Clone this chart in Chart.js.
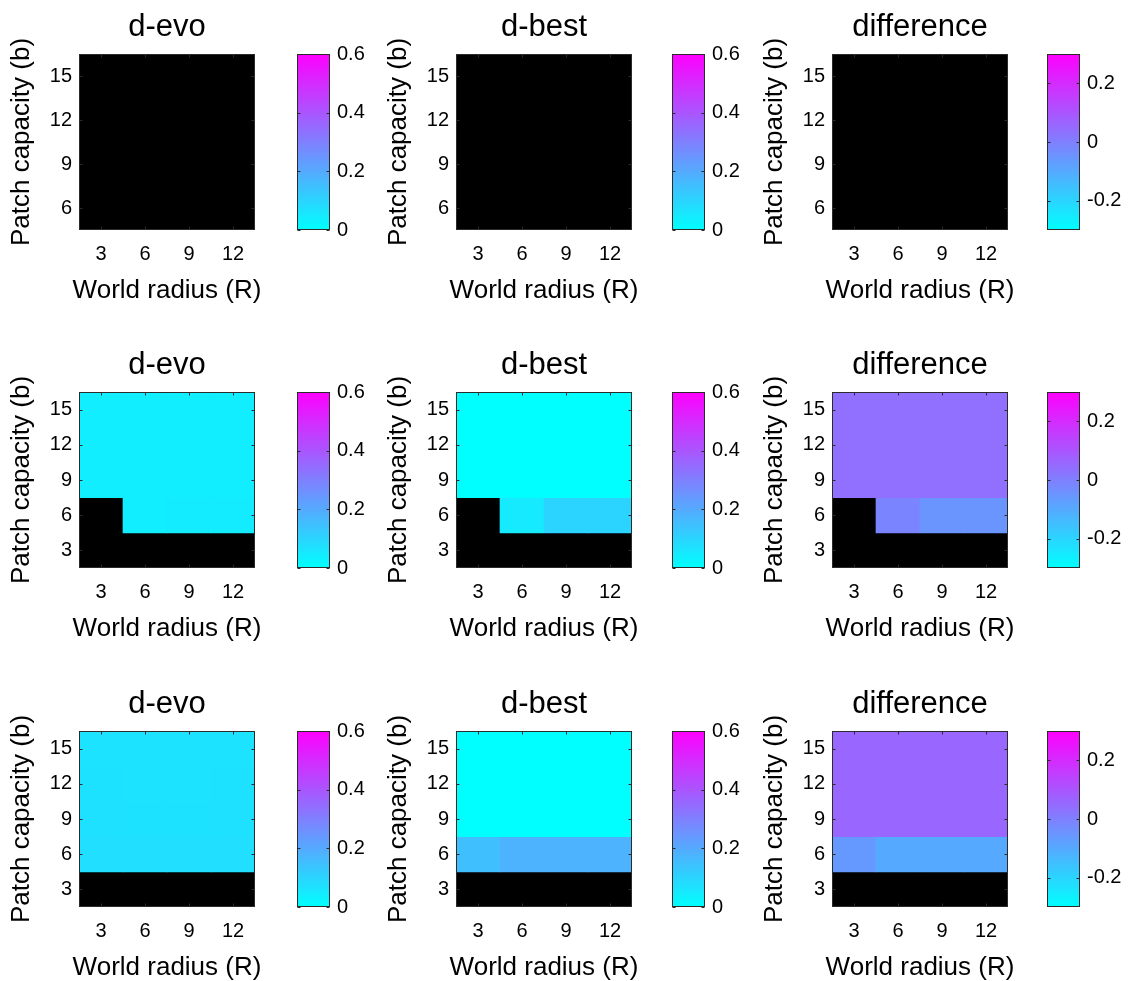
<!DOCTYPE html>
<html>
<head>
<meta charset="utf-8">
<title>d-evo / d-best / difference</title>
<script src="https://cdn.jsdelivr.net/npm/chart.js@4.4.1/dist/chart.umd.min.js"></script>
<style>
  html, body { margin: 0; padding: 0; background: #fff; overflow: hidden; }
  body { width: 1130px; height: 981px; position: relative; }
  canvas { position: absolute; }
</style>
</head>
<body>
<script>
// axes
const radius = [3, 6, 9, 12];
const capacityTop = [6, 9, 12, 15];
const capacity = [3, 6, 9, 12, 15];
const dTicks = [0, 0.2, 0.4, 0.6];
const diffTicks = [-0.2, 0, 0.2];
const dRange = [0, 0.6];
const diffRange = [-0.3, 0.3];

// values: one row per capacity (low to high), one column per radius; null = no data (black)
const evoA = [
  [null, null, null, null],
  [null, null, null, null],
  [null, null, null, null],
  [null, null, null, null]
];
const bestA = [
  [null, null, null, null],
  [null, null, null, null],
  [null, null, null, null],
  [null, null, null, null]
];
const diffA = [
  [null, null, null, null],
  [null, null, null, null],
  [null, null, null, null],
  [null, null, null, null]
];

const evoB = [
  [null, null, null, null],
  [null, 0.04, 0.045, 0.045],
  [0.04, 0.04, 0.04, 0.04],
  [0.04, 0.04, 0.04, 0.04],
  [0.04, 0.04, 0.04, 0.04]
];
const bestB = [
  [null, null, null, null],
  [null, 0.05, 0.1, 0.1],
  [0, 0, 0, 0],
  [0, 0, 0, 0],
  [0, 0, 0, 0]
];
const diffB = [
  [null, null, null, null],
  [null, -0.01, -0.05, -0.05],
  [0.04, 0.04, 0.04, 0.04],
  [0.04, 0.04, 0.04, 0.04],
  [0.04, 0.04, 0.04, 0.04]
];

const evoC = [
  [null, null, null, null],
  [0.075, 0.075, 0.075, 0.075],
  [0.07, 0.068, 0.068, 0.07],
  [0.068, 0.066, 0.066, 0.068],
  [0.066, 0.066, 0.066, 0.066]
];
const bestC = [
  [null, null, null, null],
  [0.15, 0.18, 0.18, 0.18],
  [0, 0, 0, 0],
  [0, 0, 0, 0],
  [0, 0, 0, 0]
];
const diffC = [
  [null, null, null, null],
  [-0.06, -0.1, -0.1, -0.1],
  [0.06, 0.06, 0.06, 0.06],
  [0.06, 0.06, 0.06, 0.06],
  [0.06, 0.06, 0.06, 0.06]
];

// page layout (pixels)
const plotLeft = [79, 456, 832];
const plotTop = [54, 392, 731];
const cbLeft = [297, 672, 1047];
const PLOT = 176;
const FONT = "'Liberation Sans', Arial, Helvetica, sans-serif";

Chart.defaults.font.family = FONT;
Chart.defaults.color = '#000';

// matlab "cool" colormap
function coolColor(v, range) {
  if (v === null || v === undefined) return '#000000';
  let t = (v - range[0]) / (range[1] - range[0]);
  t = Math.max(0, Math.min(1, t));
  return 'rgb(' + Math.round(255 * t) + ',' + Math.round(255 * (1 - t)) + ',255)';
}

// box round the plot + small inward ticks on every side
const boxPlugin = {
  id: 'box',
  afterDatasetsDraw(chart) {
    const {ctx, chartArea: a} = chart;
    const L = Math.round(a.left) + 0.5, R = Math.round(a.right) - 0.5;
    const T = Math.round(a.top) + 0.5, B = Math.round(a.bottom) - 0.5;
    ctx.save();
    ctx.strokeStyle = '#2b2b2b';
    ctx.lineWidth = 1;
    ctx.strokeRect(L, T, R - L, B - T);
    ctx.beginPath();
    Object.values(chart.scales).forEach(s => {
      if (!s.options.display) return;
      s.ticks.forEach(t => {
        const p = Math.round(s.getPixelForValue(t.value)) + 0.5;
        if (s.isHorizontal()) {
          ctx.moveTo(p, B); ctx.lineTo(p, B - 3);
          ctx.moveTo(p, T); ctx.lineTo(p, T + 3);
        } else {
          ctx.moveTo(L, p); ctx.lineTo(L + 3, p);
          ctx.moveTo(R, p); ctx.lineTo(R - 3, p);
        }
      });
    });
    ctx.stroke();
    ctx.restore();
  }
};

// axis titles drawn without the scale's maxWidth squeeze
const axisTitlesPlugin = {
  id: 'axisTitles',
  afterDraw(chart, args, opts) {
    if (!opts.x) return;
    const {ctx, chartArea: a} = chart;
    ctx.save();
    ctx.fillStyle = '#000';
    ctx.font = opts.size + 'px ' + FONT;
    ctx.textAlign = 'center';
    ctx.textBaseline = 'middle';
    ctx.fillText(opts.x, (a.left + a.right) / 2, a.bottom + 61);
    ctx.translate(a.left - 57, (a.top + a.bottom) / 2);
    ctx.rotate(-Math.PI / 2);
    ctx.fillText(opts.y, 0, 0);
    ctx.restore();
  }
};

function makeCanvas(left, top, w, h) {
  const c = document.createElement('canvas');
  c.width = w; c.height = h;
  c.style.left = left + 'px';
  c.style.top = top + 'px';
  c.style.width = w + 'px';
  c.style.height = h + 'px';
  document.body.appendChild(c);
  return c;
}

function heatmap(canvas, title, rows, values, range) {
  const cells = [], colors = [];
  rows.forEach((b, i) => {
    radius.forEach((R, j) => {
      cells.push({x: R, y: [b - 1.5, b + 1.5]});
      colors.push(coolColor(values[i][j], range));
    });
  });
  return new Chart(canvas, {
    type: 'bar',
    data: {
      datasets: [{
        data: cells,
        backgroundColor: colors,
        borderWidth: 0,
        barPercentage: 1,
        categoryPercentage: 1
      }]
    },
    options: {
      responsive: false,
      animation: false,
      events: [],
      layout: { padding: { right: 34 } },
      plugins: {
        legend: { display: false },
        tooltip: { enabled: false },
        title: {
          display: true,
          text: title,
          fullSize: false,
          color: '#000',
          font: { size: 31, weight: 'normal' },
          padding: { top: 8.4, bottom: 8.4 }
        },
        axisTitles: { x: 'World radius (R)', y: 'Patch capacity (b)', size: 26 }
      },
      scales: {
        x: {
          type: 'linear',
          min: 1.5,
          max: 13.5,
          offset: false,
          grid: { display: false, drawTicks: false },
          border: { display: false },
          ticks: { padding: 12, font: { size: 20 }, color: '#000', callback: v => String(v) },
          afterBuildTicks: s => { s.ticks = radius.map(v => ({value: v})); },
          afterFit: s => { s.height = 79; }
        },
        y: {
          type: 'linear',
          min: rows[0] - 1.5,
          max: rows[rows.length - 1] + 1.5,
          grid: { display: false, drawTicks: false },
          border: { display: false },
          ticks: { padding: 7, font: { size: 20 }, color: '#000', callback: v => String(v) },
          afterBuildTicks: s => { s.ticks = rows.map(v => ({value: v})); },
          afterFit: s => { s.width = 79; }
        }
      }
    },
    plugins: [boxPlugin, axisTitlesPlugin]
  });
}

function colorbar(canvas, range, ticks) {
  return new Chart(canvas, {
    type: 'bar',
    data: {
      labels: [''],
      datasets: [{
        data: [range],
        backgroundColor: ctx => {
          const a = ctx.chart.chartArea;
          if (!a) return 'rgb(0,255,255)';
          const g = ctx.chart.ctx.createLinearGradient(0, a.bottom, 0, a.top);
          g.addColorStop(0, 'rgb(0,255,255)');
          g.addColorStop(1, 'rgb(255,0,255)');
          return g;
        },
        borderWidth: 0,
        barPercentage: 1,
        categoryPercentage: 1
      }]
    },
    options: {
      responsive: false,
      animation: false,
      events: [],
      layout: { padding: { top: 54, bottom: 79 } },
      plugins: {
        legend: { display: false },
        tooltip: { enabled: false }
      },
      scales: {
        x: { display: false },
        y: {
          position: 'right',
          min: range[0],
          max: range[1],
          grid: { display: false, drawTicks: false },
          border: { display: false },
          ticks: { padding: 7, font: { size: 20 }, color: '#000', callback: v => String(v) },
          afterBuildTicks: s => { s.ticks = ticks.map(v => ({value: v})); },
          afterFit: s => { s.width = 50; }
        }
      }
    },
    plugins: [boxPlugin]
  });
}

const figure = [
  [['d-evo', capacityTop, evoA, dRange, dTicks], ['d-best', capacityTop, bestA, dRange, dTicks], ['difference', capacityTop, diffA, diffRange, diffTicks]],
  [['d-evo', capacity, evoB, dRange, dTicks], ['d-best', capacity, bestB, dRange, dTicks], ['difference', capacity, diffB, diffRange, diffTicks]],
  [['d-evo', capacity, evoC, dRange, dTicks], ['d-best', capacity, bestC, dRange, dTicks], ['difference', capacity, diffC, diffRange, diffTicks]]
];

figure.forEach((row, r) => {
  row.forEach((p, c) => {
    const top = plotTop[r] - 54;
    heatmap(makeCanvas(plotLeft[c] - 79, top, 79 + PLOT + 34, 54 + PLOT + 79), p[0], p[1], p[2], p[3]);
    colorbar(makeCanvas(cbLeft[c], top, 33 + 50, 54 + PLOT + 79), p[3], p[4]);
  });
});
</script>
</body>
</html>
